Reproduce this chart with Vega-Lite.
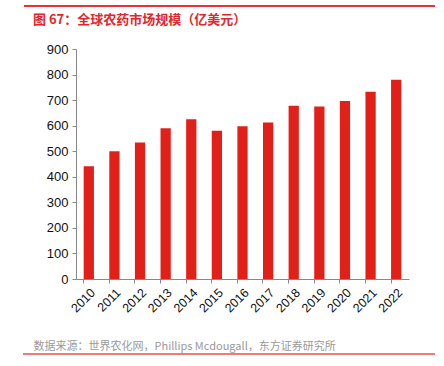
{
  "$schema": "https://vega.github.io/schema/vega-lite/v6.json",
  "width": 333,
  "height": 230,
  "autosize": {"type": "none"},
  "padding": {"left": 76, "top": 49, "right": 35, "bottom": 87},
  "background": "white",
  "title": {
    "text": "图 67：全球农药市场规模（亿美元）",
    "anchor": "start",
    "frame": "group",
    "dx": -43,
    "dy": 27,
    "offset": 0,
    "color": "#e3262b",
    "fontSize": 13,
    "font": "Noto Sans CJK SC",
    "fontWeight": "bold",
    "baseline": "middle"
  },
  "config": {
    "view": {"stroke": null},
    "font": "Liberation Sans"
  },
  "data": {
    "values": [
      {"year": "2010", "value": 441},
      {"year": "2011", "value": 500},
      {"year": "2012", "value": 534},
      {"year": "2013", "value": 590},
      {"year": "2014", "value": 625},
      {"year": "2015", "value": 580},
      {"year": "2016", "value": 598},
      {"year": "2017", "value": 612},
      {"year": "2018", "value": 678},
      {"year": "2019", "value": 675},
      {"year": "2020", "value": 697},
      {"year": "2021", "value": 733},
      {"year": "2022", "value": 780}
    ]
  },
  "layer": [
    {
      "mark": {"type": "bar", "color": "#e2201a"},
      "encoding": {
        "x": {
          "field": "year",
          "type": "ordinal",
          "scale": {"paddingInner": 0.6, "paddingOuter": 0.3},
          "axis": {
            "title": "数据来源：世界农化网，Phillips Mcdougall，东方证券研究所",
            "titleX": -43,
            "titleY": 67.5,
            "titleAlign": "left",
            "titleBaseline": "middle",
            "titleFont": "Noto Sans CJK SC",
            "titleFontSize": 11,
            "titleFontWeight": "normal",
            "titleColor": "#9a9a9a",
            "labelAngle": -45,
            "labelFontSize": 12.5,
            "labelColor": "#111",
            "labelPadding": 3,
            "domainColor": "#888",
            "tickColor": "#888",
            "tickSize": 4,
            "bandPosition": 0
          }
        },
        "y": {
          "field": "value",
          "type": "quantitative",
          "scale": {"domain": [0, 900], "nice": false},
          "axis": {
            "title": null,
            "values": [0, 100, 200, 300, 400, 500, 600, 700, 800, 900],
            "grid": false,
            "labelFontSize": 13,
            "labelColor": "#111",
            "labelPadding": 4,
            "domainColor": "#888",
            "tickColor": "#888",
            "tickSize": 4
          }
        }
      }
    },
    {
      "mark": {"type": "rule", "color": "#e8323a", "strokeWidth": 1, "clip": false},
      "encoding": {
        "x": {"value": -52},
        "x2": {"value": 359},
        "y": {"value": -43}
      }
    },
    {
      "mark": {"type": "rule", "color": "#f07a7a", "strokeWidth": 1, "clip": false},
      "encoding": {
        "x": {"value": -53},
        "x2": {"value": 359},
        "y": {"value": 305}
      }
    }
  ]
}
